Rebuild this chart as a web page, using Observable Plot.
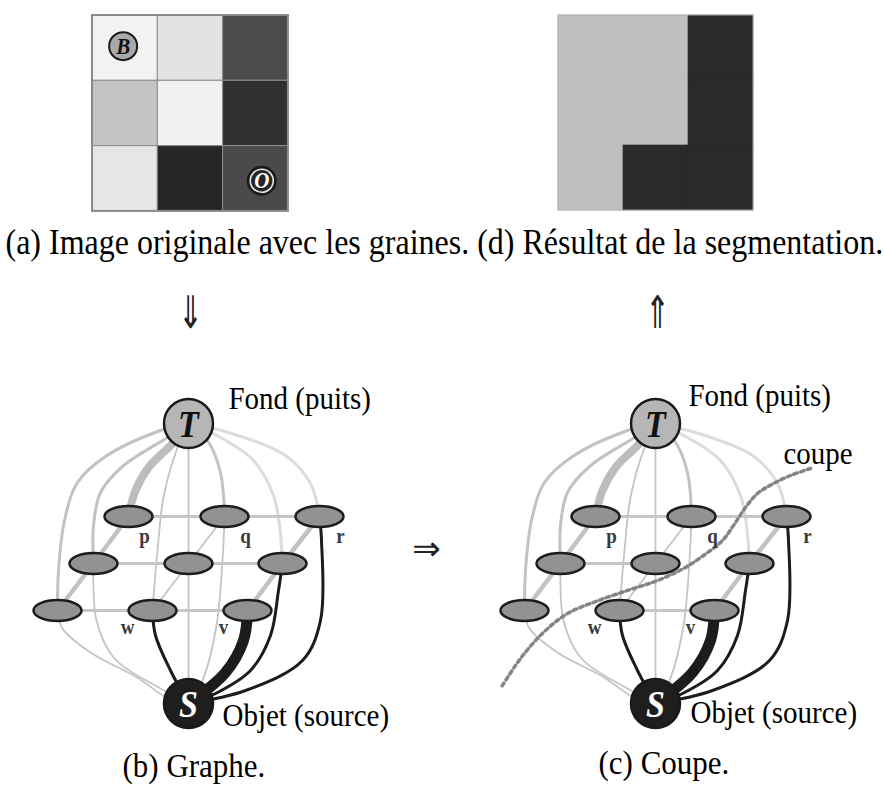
<!DOCTYPE html>
<html><head><meta charset="utf-8">
<script src="https://cdn.jsdelivr.net/npm/d3@7"></script>
<script src="https://cdn.jsdelivr.net/npm/@observablehq/plot@0.6"></script>
<style>body{margin:0;background:#fff}#chart svg{display:block}</style>
</head><body><div id="chart"></div>
<script>
// ---------------- DATA ----------------
// (a) original 3x3 image, grey levels (0-255)
const pixelGray = [
  [242, 226, 75],
  [196, 240, 48],
  [230, 38, 74]
];
// (d) segmentation labels: 0 = fond, 1 = objet
const segLabels = [
  [0, 0, 1],
  [0, 0, 1],
  [0, 1, 1]
];
// seeds drawn on (a)
const seeds = [
  {label: "B", row: 0, col: 0, kind: "fond"},
  {label: "O", row: 2, col: 2, kind: "objet"}
];
// graph nodes
const nodeIds = ["T", "S", "p", "q", "r", "m1", "m2", "m3", "w0", "w", "v"];
const terminals = ["T", "S"];
const pixelNodes = ["p", "q", "r", "m1", "m2", "m3", "w0", "w", "v"];
const nodeLetters = ["p", "q", "r", "w", "v"];
// edges: [from, to, weight class]
const edges = [
  ["T", "w0", "light"], ["T", "m1", "light"], ["T", "p", "heavyLight"],
  ["T", "q", "light"], ["T", "m2", "thin"], ["T", "w", "thin"],
  ["T", "m3", "faint"], ["T", "r", "faint"],
  ["m2", "S", "thin"], ["q", "S", "thin"], ["m1", "S", "thin"], ["w0", "S", "thin"],
  ["w", "S", "dark"], ["v", "S", "heavyDark"], ["m3", "S", "dark"], ["r", "S", "dark"],
  ["p", "q", "grid"], ["q", "r", "grid"], ["m1", "m2", "grid"], ["m2", "m3", "grid"],
  ["w0", "w", "grid"], ["w", "v", "grid"],
  ["p", "m1", "gridHeavy"], ["m1", "w0", "gridHeavy"], ["q", "m2", "gridThin"],
  ["m2", "w", "gridThin"], ["r", "m3", "gridHeavy"], ["m3", "v", "gridHeavy"]
];
// edges severed by the cut in panel (c)
const cutEdges = ["m2-m3", "w0-w"];
// texts
const captionTop = "(a) Image originale avec les graines. (d) Résultat de la segmentation.";
const captionB = "(b) Graphe.";
const captionC = "(c) Coupe.";
const sinkLabel = "Fond (puits)";
const sourceLabel = "Objet (source)";
const cutLabel = "coupe";
const arrows = ["⇓", "⇑", "⇒"];

// ---------------- LAYOUT ----------------
const W = 884, H = 787;
const imgA = {x0: 92, y0: 15, cell: 65.3};
const imgD = {x0: 558, y0: 15, cell: 65};
const nodePos = {
  T: [188, 423], S: [188, 703],
  p: [128, 516], q: [224, 516], r: [319, 516],
  m1: [93, 563], m2: [188, 563], m3: [282, 563],
  w0: [57, 610], w: [152, 610], v: [247, 610]
};
const bends = {
  "T-w0": [[160, 430], [105, 456], [77, 482], [64, 520], [58, 570]],
  "T-m1": [[167, 437], [122, 466], [100, 492], [93, 525]],
  "T-p": [[172, 443], [148, 467], [135, 490]],
  "T-q": [[207, 440], [220, 472]],
  "T-w": [[177, 447], [163, 497], [157, 550]],
  "T-m3": [[220, 437], [253, 460], [273, 495], [279, 525]],
  "T-r": [[228, 432], [285, 455], [310, 483]],
  "q-S": [[222, 560], [216, 625], [202, 680]],
  "m1-S": [[96, 620], [114, 658], [160, 688]],
  "w0-S": [[62, 628], [90, 652], [135, 676], [168, 698]],
  "w-S": [[155, 635], [170, 670]],
  "v-S": [[243, 640], [225, 672]],
  "m3-S": [[278, 590], [270, 635], [250, 670], [215, 693]],
  "r-S": [[321, 540], [320, 620], [302, 660], [245, 690]]
};
const letterPos = {p: [144, 542], q: [245, 542], r: [340, 542], w: [127, 633], v: [223, 633]};
const panels = [
  {name: "b", dx: 0, dy: 0, sinkLab: [228, 408], srcLab: [222, 725], caption: captionB, capPos: [122, 776]},
  {name: "c", dx: 467, dy: 0, sinkLab: [688, 405], srcLab: [690, 722], caption: captionC, capPos: [598, 773]}
];
const cutPath = [[810, 468], [790, 475], [773, 483], [757, 493], [745, 507], [733, 525], [722, 540],
  [703, 555], [683, 568], [657, 580], [630, 589], [598, 600], [567, 613], [545, 630], [528, 648], [515, 665], [500, 688]];
const arrowPos = [[190, 313], [657, 313], [426, 549]];
const styles = {
  faint: {stroke: "#dcdcdc", strokeWidth: 3},
  thin: {stroke: "#c4c4c4", strokeWidth: 1.8},
  gridThin: {stroke: "#c8c8c8", strokeWidth: 2},
  grid: {stroke: "#c6c6c6", strokeWidth: 3},
  gridHeavy: {stroke: "#c2c2c2", strokeWidth: 4.5},
  light: {stroke: "#c2c2c2", strokeWidth: 3},
  heavyLight: {stroke: "#bdbdbd", strokeWidth: 8},
  dark: {stroke: "#1c1c1c", strokeWidth: 3},
  heavyDark: {stroke: "#1c1c1c", strokeWidth: 11}
};
const serif = "Liberation Serif";

// ---------------- BUILD ----------------
const cellsA = pixelGray.flatMap((row, i) => row.map((g, j) => ({
  x1: imgA.x0 + j * imgA.cell, x2: imgA.x0 + (j + 1) * imgA.cell,
  y1: imgA.y0 + i * imgA.cell, y2: imgA.y0 + (i + 1) * imgA.cell,
  fill: `rgb(${g},${g},${g})`
})));
const cellsD = segLabels.flatMap((row, i) => row.map((l, j) => ({
  x1: imgD.x0 + j * imgD.cell, x2: imgD.x0 + (j + 1) * imgD.cell,
  y1: imgD.y0 + i * imgD.cell, y2: imgD.y0 + (i + 1) * imgD.cell,
  fill: l ? "#2a2a2a" : "#bebebe"
})));
const seedPts = seeds.map(s => ({
  ...s, x: imgA.x0 + (s.col + 0.5) * imgA.cell - (s.kind === "fond" ? 2 : -6),
  y: imgA.y0 + (s.row + 0.5) * imgA.cell - (s.kind === "fond" ? 2 : -2)
}));

const edgeLines = {};
Object.keys(styles).forEach(k => edgeLines[k] = []);
const nodePts = [], letterPts = [];
panels.forEach(P => {
  const pos = id => [nodePos[id][0] + P.dx, nodePos[id][1] + P.dy];
  edges.forEach(([a, b, wgt]) => {
    const key = `${a}-${b}`;
    if (P.name === "c" && cutEdges.includes(key)) return;
    const pts = [pos(a), ...(bends[key] || []).map(([x, y]) => [x + P.dx, y + P.dy]), pos(b)];
    pts.forEach(([x, y]) => edgeLines[wgt].push({id: P.name + key, x, y}));
  });
  nodeIds.forEach(id => nodePts.push({id, panel: P.name, x: pos(id)[0], y: pos(id)[1]}));
  nodeLetters.forEach(l => letterPts.push({t: l, x: letterPos[l][0] + P.dx, y: letterPos[l][1] + P.dy}));
});

const ellipse = {
  draw(ctx) {
    const a = 24, b = 10.5, k = 0.5523;
    ctx.moveTo(a, 0);
    ctx.bezierCurveTo(a, b * k, a * k, b, 0, b);
    ctx.bezierCurveTo(-a * k, b, -a, b * k, -a, 0);
    ctx.bezierCurveTo(-a, -b * k, -a * k, -b, 0, -b);
    ctx.bezierCurveTo(a * k, -b, a, -b * k, a, 0);
    ctx.closePath();
  }
};

const order = ["faint", "thin", "gridThin", "grid", "gridHeavy", "light", "heavyLight", "dark", "heavyDark"];
const marks = [
  // (a)
  Plot.rect(cellsA, {x1: "x1", x2: "x2", y1: "y1", y2: "y2", fill: "fill", stroke: "#8e8e8e", strokeWidth: 1}),
  Plot.rect([0], {x1: imgA.x0, x2: imgA.x0 + 3 * imgA.cell, y1: imgA.y0, y2: imgA.y0 + 3 * imgA.cell, fill: "none", stroke: "#8a8a8a", strokeWidth: 2}),
  Plot.dot(seedPts, {x: "x", y: "y", r: 14, fill: d => d.kind === "fond" ? "#a9a9a9" : "#262626", stroke: "#1a1a1a", strokeWidth: 2}),
  Plot.dot(seedPts.filter(d => d.kind === "objet"), {x: "x", y: "y", r: 11.5, fill: "none", stroke: "#e6e6e6", strokeWidth: 1.6}),
  Plot.text(seedPts, {x: "x", y: "y", text: "label", fontFamily: serif, fontWeight: "bold", fontStyle: "italic", fontSize: 21, fill: d => d.kind === "fond" ? "#111" : "#fff"}),
  // (d)
  Plot.rect(cellsD, {x1: "x1", x2: "x2", y1: "y1", y2: "y2", fill: "fill", stroke: "fill", strokeWidth: 0.6}),
  Plot.rect([0], {x1: imgD.x0, x2: imgD.x0 + 3 * imgD.cell, y1: imgD.y0, y2: imgD.y0 + 3 * imgD.cell, fill: "none", stroke: "#b0b0b0", strokeWidth: 1}),
  // edges
  ...order.map(k => Plot.line(edgeLines[k], {x: "x", y: "y", z: "id", curve: "catmull-rom", stroke: styles[k].stroke, strokeWidth: styles[k].strokeWidth, strokeLinecap: "round"})),
  // cut
  Plot.line(cutPath.map(([x, y]) => ({x, y})), {x: "x", y: "y", curve: "catmull-rom", stroke: "#858585", strokeWidth: 3.5, strokeDasharray: "3.5,3.5"}),
  // nodes
  Plot.dot(nodePts.filter(d => pixelNodes.includes(d.id)), {x: "x", y: "y", symbol: ellipse, r: 5, fill: "#929292", stroke: "#1c1c1c", strokeWidth: 2.5}),
  Plot.dot(nodePts.filter(d => terminals.includes(d.id)), {x: "x", y: "y", r: 24.5, fill: d => d.id === "T" ? "#b6b6b6" : "#1e1e1e", stroke: "#1a1a1a", strokeWidth: 2.5}),
  Plot.text(nodePts.filter(d => terminals.includes(d.id)), {x: "x", y: "y", text: "id", dy: 1, fontFamily: serif, fontWeight: "bold", fontStyle: "italic", fontSize: 34, fill: d => d.id === "T" ? "#111" : "#fff"}),
  Plot.text(letterPts, {x: "x", y: "y", text: "t", lineAnchor: "bottom", fontFamily: serif, fontWeight: "bold", fontSize: 19, fill: "#3a3a3a"}),
  // graph labels
  Plot.text(panels, {x: d => d.sinkLab[0], y: d => d.sinkLab[1], text: () => sinkLabel, textAnchor: "start", lineAnchor: "bottom", fontFamily: serif, fontSize: 29, fill: "#000"}),
  Plot.text(panels, {x: d => d.srcLab[0], y: d => d.srcLab[1], text: () => sourceLabel, textAnchor: "start", lineAnchor: "bottom", fontFamily: serif, fontSize: 29, fill: "#000"}),
  Plot.text(panels, {x: d => d.capPos[0], y: d => d.capPos[1], text: "caption", textAnchor: "start", lineAnchor: "bottom", fontFamily: serif, fontSize: 31, fill: "#000"}),
  Plot.text([cutLabel], {x: 783, y: 463, text: d => d, textAnchor: "start", lineAnchor: "bottom", fontFamily: serif, fontSize: 29, fill: "#000"}),
  Plot.text([captionTop], {x: 5, y: 253, text: d => d, textAnchor: "start", lineAnchor: "bottom", fontFamily: serif, fontSize: 32, fill: "#000"}),
  // arrows
  Plot.text(arrows.map((a, i) => ({a, x: arrowPos[i][0], y: arrowPos[i][1]})), {x: "x", y: "y", text: "a", fontFamily: "DejaVu Sans", fontSize: d => d.a === "⇒" ? 34 : 30, fill: "#222"})
];

const chart = Plot.plot({
  width: W, height: H, margin: 0,
  x: {domain: [0, W], axis: null},
  y: {domain: [0, H], reverse: true, axis: null},
  color: {type: "identity"},
  style: {background: "#fff", overflow: "visible"},
  marks
});

// Vertical stretch of the glyphs (the reference typeface is taller than Times)
chart.querySelectorAll('g[aria-label="text"]').forEach(g => {
  const fam = g.getAttribute("font-family") || "";
  g.querySelectorAll("text").forEach(t => {
    let sy = 1;
    if (fam.includes("Liberation")) sy = 1.12;
    else if (t.textContent === "⇓" || t.textContent === "⇑") sy = 1.5;
    if (sy === 1) return;
    const tr = t.getAttribute("transform");
    if (tr && tr.includes("translate")) {
      t.setAttribute("transform", `${tr} scale(1,${sy})`);
    } else {
      const x = +(t.getAttribute("x") || 0), y = +(t.getAttribute("y") || 0);
      t.removeAttribute("x"); t.removeAttribute("y");
      t.setAttribute("transform", `${tr ? tr + " " : ""}translate(${x},${y}) scale(1,${sy})`);
    }
  });
});
document.getElementById("chart").appendChild(chart);
</script>
</body></html>
